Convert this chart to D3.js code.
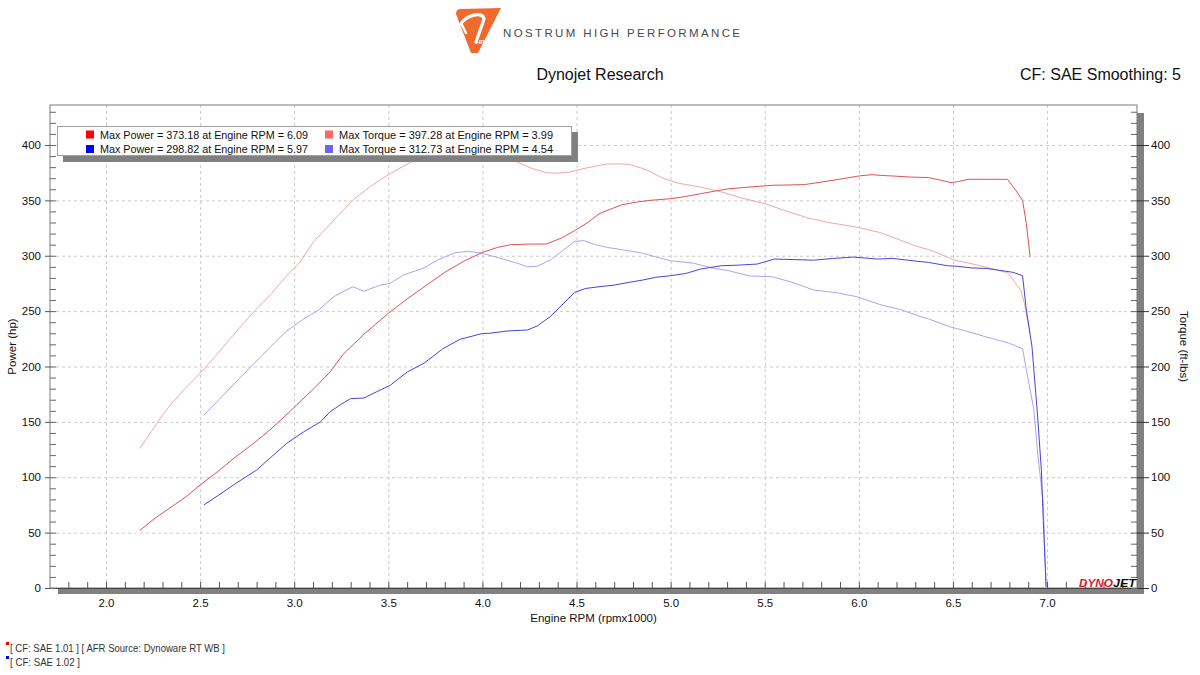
<!DOCTYPE html>
<html><head><meta charset="utf-8">
<script src="https://cdn.jsdelivr.net/npm/d3@7"></script>
<style>
body{margin:0;background:#fff}
svg{display:block;font-family:"Liberation Sans",Arial,sans-serif}
</style>
</head><body>
<svg id="c" width="1200" height="675"></svg>
<script>
// ---------------- DATA ----------------
const rpmMajorTicks = [2.0, 2.5, 3.0, 3.5, 4.0, 4.5, 5.0, 5.5, 6.0, 6.5, 7.0];
const rpmMinorTicks = d3.range(18, 75).map(v => v / 10);
const valueMajorTicks = [0, 50, 100, 150, 200, 250, 300, 350, 400];
const valueMinorTicks = d3.range(0, 440, 10);

// [Engine RPM (x1000), hp]
const powerRun1 = [[2.18,52],[2.26,63],[2.35,73.5],[2.43,83],[2.50,93],[2.60,106],[2.69,118.6],[2.78,130],[2.87,142.6],[2.95,155],[3.03,168],[3.11,181],[3.19,195],[3.26,211],[3.37,229],[3.50,248],[3.60,261],[3.70,273],[3.80,285],[3.90,295],[4.00,303],[4.08,307.5],[4.15,310],[4.25,310.5],[4.34,310.6],[4.42,316],[4.49,322.7],[4.56,330],[4.62,337.9],[4.68,342],[4.74,346],[4.82,348.5],[4.89,350],[5.00,351.5],[5.08,353.5],[5.16,356],[5.24,358.5],[5.31,360.5],[5.42,362],[5.54,363.6],[5.71,364.2],[5.82,367],[5.92,369.7],[6.00,372],[6.07,373.2],[6.12,372.5],[6.18,372],[6.28,371],[6.37,370.6],[6.44,368],[6.49,366],[6.53,367],[6.58,369],[6.68,369],[6.79,369],[6.83,360],[6.87,350],[6.89,329],[6.91,299]];
// [Engine RPM (x1000), ft-lbs]
const torqueRun1 = [[2.18,126],[2.24,141],[2.30,156],[2.35,167],[2.42,180],[2.50,194],[2.58,209],[2.66,225],[2.73,239],[2.80,252],[2.88,266],[2.96,282],[3.03,294],[3.10,312],[3.21,332],[3.31,350],[3.40,362],[3.46,369],[3.56,379],[3.66,388],[3.74,392],[3.85,396],[3.99,397.3],[4.08,393],[4.18,385],[4.26,379],[4.34,375],[4.40,374.5],[4.46,375.5],[4.52,378],[4.60,381],[4.66,382.7],[4.72,383],[4.78,382.4],[4.84,379.5],[4.89,376],[4.96,370],[5.04,365.5],[5.16,362],[5.27,357.6],[5.38,352],[5.50,347],[5.62,340],[5.73,334],[5.84,330],[5.99,325.8],[6.11,321],[6.18,316.7],[6.30,309],[6.39,304.5],[6.51,296],[6.58,293.5],[6.70,288.7],[6.79,284.7],[6.82,278],[6.86,269],[6.88,257],[6.90,239],[6.91,230]];
const powerRun2 = [[2.52,75],[2.60,84],[2.69,94.5],[2.80,106.5],[2.90,121.6],[2.96,130.6],[3.05,141],[3.14,150],[3.19,159],[3.25,166],[3.30,171],[3.37,171.5],[3.46,179],[3.51,183],[3.60,195],[3.69,203],[3.79,216],[3.88,224.5],[4.00,229.8],[4.04,230],[4.13,232],[4.24,233],[4.29,236.5],[4.36,245],[4.42,255],[4.49,267],[4.55,270.5],[4.62,272],[4.70,273.5],[4.78,276],[4.85,278],[4.92,280.5],[5.00,282],[5.08,284],[5.16,288],[5.27,291],[5.36,291.5],[5.46,292.5],[5.55,297],[5.66,296.5],[5.76,296],[5.86,297.5],[5.97,298.8],[6.10,297],[6.18,297.6],[6.31,295],[6.37,294],[6.47,291],[6.52,290.5],[6.60,289],[6.68,288.5],[6.82,285],[6.87,282],[6.89,251],[6.92,218],[6.95,155],[6.97,106],[6.98,61],[6.995,1]];
const torqueRun2 = [[2.52,156],[2.60,170],[2.69,186],[2.76,198],[2.83,210],[2.90,222],[2.96,232],[3.05,243],[3.13,251],[3.21,263],[3.31,272],[3.37,268],[3.46,273.6],[3.51,275],[3.58,282.6],[3.69,289],[3.76,296],[3.85,302.5],[3.92,304],[3.99,302.5],[4.09,298],[4.18,293.5],[4.24,290],[4.29,290.5],[4.36,296],[4.43,305],[4.49,313],[4.54,313.6],[4.60,310],[4.66,307.6],[4.74,305.5],[4.85,302.4],[4.92,299],[5.00,295.5],[5.12,293.3],[5.22,289],[5.31,286.4],[5.42,281.8],[5.54,281],[5.65,275.8],[5.76,269],[5.88,266.7],[5.99,263],[6.11,256],[6.22,251.5],[6.31,246],[6.37,243],[6.48,236],[6.57,232],[6.66,227.5],[6.80,221],[6.87,216],[6.89,197],[6.93,161],[6.95,122],[6.98,76],[6.995,1]];

const legendLabels = [
  "Max Power = 373.18 at Engine RPM = 6.09",
  "Max Torque = 397.28 at Engine RPM = 3.99",
  "Max Power = 298.82 at Engine RPM = 5.97",
  "Max Torque = 312.73 at Engine RPM = 4.54"
];
const footNotes = ["[ CF: SAE 1.01 ] [ AFR Source: Dynoware RT WB ]", "[ CF: SAE 1.02 ]"];

// ---------------- STYLE ----------------
const colPower1 = "#e05252", colTorque1 = "#f3a6a6", colPower2 = "#4646d6", colTorque2 = "#a6a6f2";
const swatch = ["#ff0000", "#ff6666", "#0000ff", "#6666ff"];

const svg = d3.select("#c");
const L = 50, R = 1137, T = 105, B = 588;
const x = d3.scaleLinear().domain([1.7024, 7.478]).range([L, R]);
const y = d3.scaleLinear().domain([0, 436.1]).range([B, T]);
const yT = d3.scaleLinear().domain([0, 436.1]).range([B, T]);
const FONT = "Liberation Sans, Arial, sans-serif";

// shadows
svg.append("rect").attr("x", R).attr("y", 113).attr("width", 7).attr("height", B + 6 - 113).attr("fill", "#808080");
svg.append("rect").attr("x", 58).attr("y", B).attr("width", R + 7 - 58).attr("height", 6).attr("fill", "#808080");
svg.append("rect").attr("x", L).attr("y", T).attr("width", R - L).attr("height", B - T).attr("fill", "#fff");

// gridlines
const gx = svg.append("g").attr("transform", `translate(0,${B})`)
  .call(d3.axisBottom(x).tickValues(rpmMajorTicks).tickSize(-(B - T)).tickFormat(""));
const gy = svg.append("g").attr("transform", `translate(${L},0)`)
  .call(d3.axisLeft(y).tickValues(valueMajorTicks.slice(1)).tickSize(-(R - L)).tickFormat(""));
[gx, gy].forEach(g => {
  g.select(".domain").remove();
  g.selectAll("line").attr("stroke", "#cbcbcb").attr("stroke-dasharray", "3,3");
});

// frame
svg.append("rect").attr("x", L).attr("y", T).attr("width", R - L).attr("height", B - T)
  .attr("fill", "none").attr("stroke", "#7a7a7a").attr("stroke-width", 1);
svg.append("line").attr("x1", L).attr("x2", R).attr("y1", B + 0.5).attr("y2", B + 0.5).attr("stroke", "#444");

// minor ticks x (upward)
const mx = svg.append("g").attr("transform", `translate(0,${B})`)
  .call(d3.axisBottom(x).tickValues(rpmMinorTicks).tickSize(-6).tickFormat(""));
mx.select(".domain").remove();
mx.selectAll("line").attr("stroke", "#555");
const lx = svg.append("g").attr("transform", `translate(0,${B})`)
  .call(d3.axisBottom(x).tickValues(rpmMajorTicks).tickSize(0).tickPadding(11).tickFormat(d3.format(".1f")));
lx.select(".domain").remove();
lx.selectAll("text").attr("font-size", 11.5).attr("fill", "#111").style("font-family", FONT);

// left axis
const ml = svg.append("g").attr("transform", `translate(${L},0)`)
  .call(d3.axisRight(y).tickValues(valueMinorTicks).tickSize(6).tickFormat(""));
ml.select(".domain").remove(); ml.selectAll("line").attr("stroke", "#666");
const al = svg.append("g").attr("transform", `translate(${L},0)`)
  .call(d3.axisLeft(y).tickValues(valueMajorTicks).tickSize(5).tickPadding(4));
al.select(".domain").remove();
al.selectAll("line").attr("stroke", "#555");
al.selectAll("text").attr("font-size", 11.5).attr("fill", "#111").style("font-family", FONT);

// right axis
const mr = svg.append("g").attr("transform", `translate(${R},0)`)
  .call(d3.axisLeft(yT).tickValues(valueMinorTicks).tickSize(6).tickFormat(""));
mr.select(".domain").remove(); mr.selectAll("line").attr("stroke", "#666");
const ar = svg.append("g").attr("transform", `translate(${R},0)`)
  .call(d3.axisRight(yT).tickValues(valueMajorTicks).tickSize(12).tickPadding(2));
ar.select(".domain").remove();
ar.selectAll("line").attr("stroke", "#333");
ar.selectAll("text").attr("font-size", 11.5).attr("fill", "#111").style("font-family", FONT);

// lines
const lineP = d3.line().x(d => x(d[0])).y(d => y(d[1]));
const lineT = d3.line().x(d => x(d[0])).y(d => yT(d[1]));
const plot = svg.append("g");
plot.append("path").datum(torqueRun1).attr("d", lineT).attr("fill", "none").attr("stroke", colTorque1).attr("stroke-width", 1);
plot.append("path").datum(torqueRun2).attr("d", lineT).attr("fill", "none").attr("stroke", colTorque2).attr("stroke-width", 1);
plot.append("path").datum(powerRun1).attr("d", lineP).attr("fill", "none").attr("stroke", colPower1).attr("stroke-width", 1);
plot.append("path").datum(powerRun2).attr("d", lineP).attr("fill", "none").attr("stroke", colPower2).attr("stroke-width", 1);

// legend
const lg = svg.append("g");
lg.append("rect").attr("x", 63).attr("y", 132).attr("width", 515).attr("height", 30).attr("fill", "#808080");
lg.append("rect").attr("x", 57.5).attr("y", 126.5).attr("width", 514).attr("height", 29).attr("fill", "#fff").attr("stroke", "#a0a0a0");
const legPos = [[86, 134.5], [325, 134.5], [86, 149], [325, 149]];
const legLen = [208, 214, 208, 214];
legendLabels.forEach((t, i) => {
  const [px, py] = legPos[i];
  lg.append("rect").attr("x", px).attr("y", py - 4).attr("width", 8).attr("height", 8).attr("fill", swatch[i]);
  lg.append("text").attr("x", px + 14).attr("y", py + 4.2).attr("font-size", 11.8).attr("fill", "#111")
    .attr("textLength", legLen[i]).attr("lengthAdjust", "spacingAndGlyphs").text(t);
});

// titles
svg.append("text").attr("x", 600).attr("y", 80).attr("text-anchor", "middle").attr("font-size", 16).attr("fill", "#111").text("Dynojet Research");
svg.append("text").attr("x", 1181).attr("y", 80).attr("text-anchor", "end").attr("font-size", 16).attr("fill", "#111").text("CF: SAE Smoothing: 5");
svg.append("text").attr("x", (L + R) / 2).attr("y", 622).attr("text-anchor", "middle").attr("font-size", 11.5).attr("fill", "#111").text("Engine RPM (rpmx1000)");
svg.append("text").attr("transform", `translate(16,${(T + B) / 2}) rotate(-90)`).attr("text-anchor", "middle").attr("font-size", 11.5).attr("fill", "#111").text("Power (hp)");
svg.append("text").attr("transform", `translate(1180,${(T + B) / 2}) rotate(90)`).attr("text-anchor", "middle").attr("font-size", 11.5).attr("fill", "#111").text("Torque (ft-lbs)");

// footnotes
svg.append("rect").attr("x", 6).attr("y", 642).attr("width", 3).attr("height", 3).attr("fill", "#e00");
svg.append("rect").attr("x", 6).attr("y", 656).attr("width", 3).attr("height", 3).attr("fill", "#00e");
svg.append("text").attr("x", 10).attr("y", 652).attr("font-size", 11).attr("fill", "#333")
  .attr("textLength", 215).attr("lengthAdjust", "spacingAndGlyphs").text(footNotes[0]);
svg.append("text").attr("x", 10).attr("y", 666).attr("font-size", 11).attr("fill", "#333")
  .attr("textLength", 70).attr("lengthAdjust", "spacingAndGlyphs").text(footNotes[1]);

// Nostrum logo
const logo = svg.append("g");
logo.append("path").attr("d", "M456,14 Q456,9 461,9 L501,8 L478,53 L471,53 Z").attr("fill", "#ef6a2c");
logo.append("path").attr("d", "M461,24 C466,15 483,11 484,19 L476,42").attr("fill", "none").attr("stroke", "#fff").attr("stroke-width", 3.2).attr("stroke-linecap", "round");
logo.append("path").attr("d", "M462,25 L466,33").attr("fill", "none").attr("stroke", "#fff").attr("stroke-width", 2.5).attr("stroke-linecap", "round");
logo.append("text").attr("x", 476).attr("y", 44).attr("font-size", 6).attr("font-weight", "bold").attr("font-style", "italic").attr("fill", "#fff").text("HP");
logo.append("text").attr("x", 503).attr("y", 36.5).attr("font-size", 11.5).attr("fill", "#4a4a4a")
  .attr("textLength", 237).attr("lengthAdjust", "spacing").text("NOSTRUM HIGH PERFORMANCE");

// Dynojet logo
svg.append("text").attr("x", 1079).attr("y", 587).attr("font-size", 11).attr("font-weight", "bold").attr("font-style", "italic")
  .attr("fill", "#e0202a").attr("textLength", 34).attr("lengthAdjust", "spacingAndGlyphs").text("DYNO");
svg.append("text").attr("x", 1113).attr("y", 587).attr("font-size", 11).attr("font-weight", "bold").attr("font-style", "italic")
  .attr("fill", "#111").attr("textLength", 23).attr("lengthAdjust", "spacingAndGlyphs").text("JET");
</script>
</body></html>
